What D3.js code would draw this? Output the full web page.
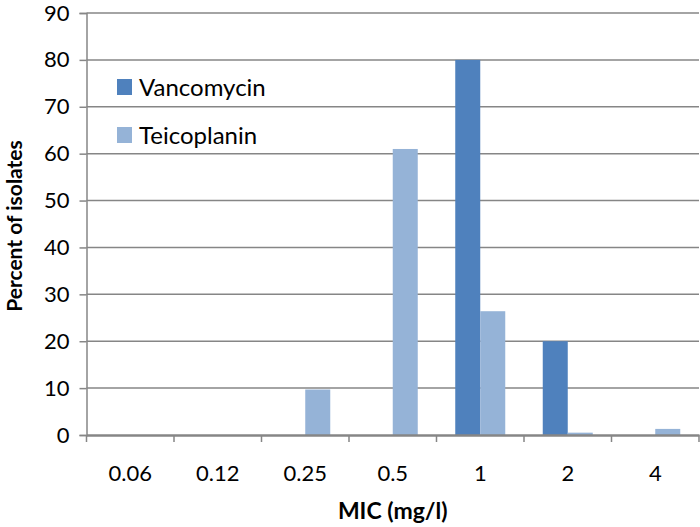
<!DOCTYPE html>
<html>
<head>
<meta charset="utf-8">
<script src="https://cdn.jsdelivr.net/npm/d3@7"></script>
<style>
  html, body { margin: 0; padding: 0; background: #fff; }
  svg { display: block; }
  text { font-family: Lato, "Open Sans", sans-serif; fill: #000; }
</style>
</head>
<body>
<svg id="chart" width="700" height="527"></svg>
<script>
// MIC distribution (percent of isolates) for two glycopeptides
const micLabels = ["0.06", "0.12", "0.25", "0.5", "1", "2", "4"];
const seriesNames = ["Vancomycin", "Teicoplanin"];
const vancomycin = [0, 0, 0, 0, 80, 20, 0];
const teicoplanin = [0, 0, 9.7, 61, 26.4, 0.5, 1.3];
const yTicks = [0, 10, 20, 30, 40, 50, 60, 70, 80, 90];
const colors = ["#4F81BD", "#95B3D7"];

const svg = d3.select("#chart");
const margin = { left: 86.5, right: 1, top: 13, bottom: 92 };
const W = 700, H = 527;
const plotL = margin.left, plotR = W - margin.right;
const plotT = margin.top, plotB = H - margin.bottom;

const x0 = d3.scaleBand().domain(micLabels).range([plotL, plotR]).padding(0);
const step = x0.step();
// gap width 150% of a bar: two bars take 2/(2+1.5) of each slot
const x1 = d3.scaleBand().domain(seriesNames)
  .range([step * 0.75 / 3.5, step - step * 0.75 / 3.5]).padding(0);
const y = d3.scaleLinear().domain([0, 90]).range([plotB, plotT]);

const gridColor = "#868686";

// horizontal gridlines
svg.append("g")
  .selectAll("line")
  .data(yTicks.filter(d => d > 0))
  .join("line")
  .attr("x1", plotL).attr("x2", plotR)
  .attr("y1", d => y(d)).attr("y2", d => y(d))
  .attr("stroke", gridColor).attr("stroke-width", 1.5);

// bars
const rows = micLabels.map((m, i) => ({ mic: m, values: [vancomycin[i], teicoplanin[i]] }));
svg.append("g")
  .selectAll("g")
  .data(rows)
  .join("g")
  .attr("transform", d => `translate(${x0(d.mic)},0)`)
  .selectAll("rect")
  .data(d => d.values.map((v, k) => ({ name: seriesNames[k], v, k })))
  .join("rect")
  .attr("x", d => x1(d.name))
  .attr("width", x1.bandwidth())
  .attr("y", d => y(d.v))
  .attr("height", d => y(0) - y(d.v))
  .attr("fill", d => colors[d.k]);

// y axis
const yAxis = svg.append("g")
  .attr("transform", `translate(${plotL},0)`)
  .call(d3.axisLeft(y).tickValues(yTicks).tickSize(7).tickPadding(10).tickFormat(d3.format("d")));
yAxis.select(".domain").attr("stroke", gridColor).attr("stroke-width", 1.5);
yAxis.selectAll(".tick line").attr("stroke", gridColor).attr("stroke-width", 1.5);
yAxis.selectAll(".tick text").attr("font-size", 22).attr("fill", "#000");

// x axis with ticks on category boundaries
const xAxis = svg.append("g")
  .attr("transform", `translate(0,${plotB})`)
  .call(d3.axisBottom(x0).tickSize(0).tickPadding(30));
xAxis.select(".domain").attr("stroke", gridColor).attr("stroke-width", 2.5);
xAxis.selectAll(".tick text").attr("font-size", 22).attr("fill", "#000");
xAxis.append("g")
  .selectAll("line")
  .data(d3.range(micLabels.length + 1))
  .join("line")
  .attr("x1", i => plotL + i * step).attr("x2", i => plotL + i * step)
  .attr("y1", 0).attr("y2", 7)
  .attr("stroke", gridColor).attr("stroke-width", 1.5);

// axis titles
svg.append("text")
  .attr("x", (plotL + plotR) / 2).attr("y", 519)
  .attr("text-anchor", "middle")
  .attr("font-size", 23).attr("font-weight", "bold")
  .text("MIC (mg/l)");
svg.append("text")
  .attr("transform", `translate(22,${(plotT + plotB) / 2 + 2}) rotate(-90)`)
  .attr("text-anchor", "middle")
  .attr("font-size", 21).attr("font-weight", "bold")
  .text("Percent of isolates");

// legend
const legend = svg.append("g").attr("transform", "translate(117,79)");
seriesNames.forEach((name, k) => {
  const g = legend.append("g").attr("transform", `translate(0,${k * 48})`);
  g.append("rect").attr("width", 15).attr("height", 16).attr("fill", colors[k]);
  g.append("text").attr("x", 22).attr("y", 17).attr("font-size", 24).text(name);
});
</script>
</body>
</html>
